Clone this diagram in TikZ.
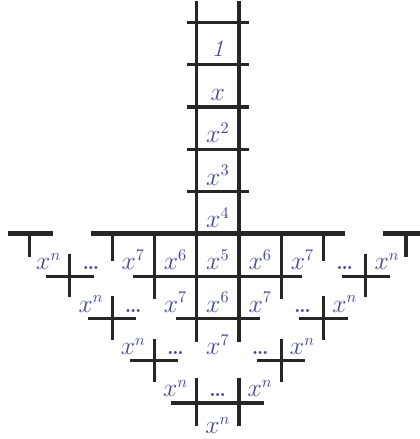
\documentclass[tikz,border=0pt]{standalone}
\usepackage{xcolor}
\usetikzlibrary{positioning}
\definecolor{ink}{HTML}{262626}
\definecolor{pow}{HTML}{464A98}

\begin{document}
\begin{tikzpicture}[
      ln/.style={draw=ink, line width=2.1pt},
      bar/.style={draw=ink, line width=3.3pt},
      pw/.style={text=pow, anchor=base, inner sep=0pt, font=\fontsize{16}{18}\selectfont},
      dt/.style={text=pow, anchor=base, inner sep=0pt, font=\fontsize{14}{16}\selectfont\bfseries}
    ]
    \useasboundingbox (-5.15,-4.85) rectangle (4.78,5.53);

    % ladder on top
    \draw[ln] (-0.5,5.5) -- (-0.5,-2.55);
    \draw[ln] (0.5,5.5) -- (0.5,-2.55);
    \foreach \y in {1,...,5} { \draw[ln] (-0.73,\y) -- (0.73,\y); }
    \node[pw] (one) at (0,4.2) {\textit{1}};
    \node[pw] (xa) at (0,3.15) {$x$};
    \node[pw] (xb) at (0,2.15) {$x^2$};
    \node[pw] (xc) at (0,1.15) {$x^3$};
    \node[pw] (xd) at (0,0.15) {$x^4$};

    % heavy bar and its ends
    \draw[bar] (-4.95,0) -- (-3.9,0);
    \draw[bar] (-3,0) -- (3,0);
    \draw[bar] (3.9,0) -- (4.95,0);
    \foreach \s in {-1,1} {
      \draw[ln] (\s*4.45,0) -- (\s*4.45,-0.55);
      \draw[ln] (\s*2.5,0) -- (\s*2.5,-0.65);
      \draw[ln] (\s*1.5,0) -- (\s*1.5,-1.55);
    }
    \draw[ln] (-2,-1) -- (2,-1);
    \draw[ln] (-1,-2) -- (1,-2);

    % crosses down the sides
    \foreach \k in {1,2,3} {
      \pgfmathsetmacro\c{4.5-\k}
      \foreach \s in {-1,1} {
        \draw[ln] (\s*\c-0.57,-\k) -- (\s*\c+0.57,-\k);
        \draw[ln] (\s*\c,-\k+0.52) -- (\s*\c,-\k-0.5);
      }
    }
    \draw[ln] (-1.1,-4) -- (1.1,-4);
    \draw[ln] (-0.5,-3.4) -- (-0.5,-4.55);
    \draw[ln] (0.5,-3.4) -- (0.5,-4.55);

    % powers
    \foreach \n/\u/\t in {a/-4/n, b/-2/7, c/-1/6, d/0/5, e/1/6, f/2/7, g/4/n} {
      \node[pw] (ra\n) at (\u,-0.85) {$x^{\t}$};
    }
    \foreach \n/\u/\t in {a/-3/n, b/-1/7, c/0/6, d/1/7, e/3/n} {
      \node[pw] (rb\n) at (\u,-1.85) {$x^{\t}$};
    }
    \foreach \n/\u/\t in {a/-2/n, b/0/7, c/2/n} {
      \node[pw] (rc\n) at (\u,-2.85) {$x^{\t}$};
    }
    \node[pw] (rda) at (-1,-3.85) {$x^n$};
    \node[pw] (rdb) at (1,-3.85) {$x^n$};
    \node[pw] (rea) at (0,-4.72) {$x^n$};

    % dots
    \foreach \n/\u/\v in {a/-3/-0.85, b/3/-0.85, c/-2/-1.85, d/2/-1.85, e/-1/-2.85, f/1/-2.85, g/0/-3.85} {
      \node[dt] (dot\n) at (\u,\v) {\dots};
    }
  \end{tikzpicture}
\end{document}
